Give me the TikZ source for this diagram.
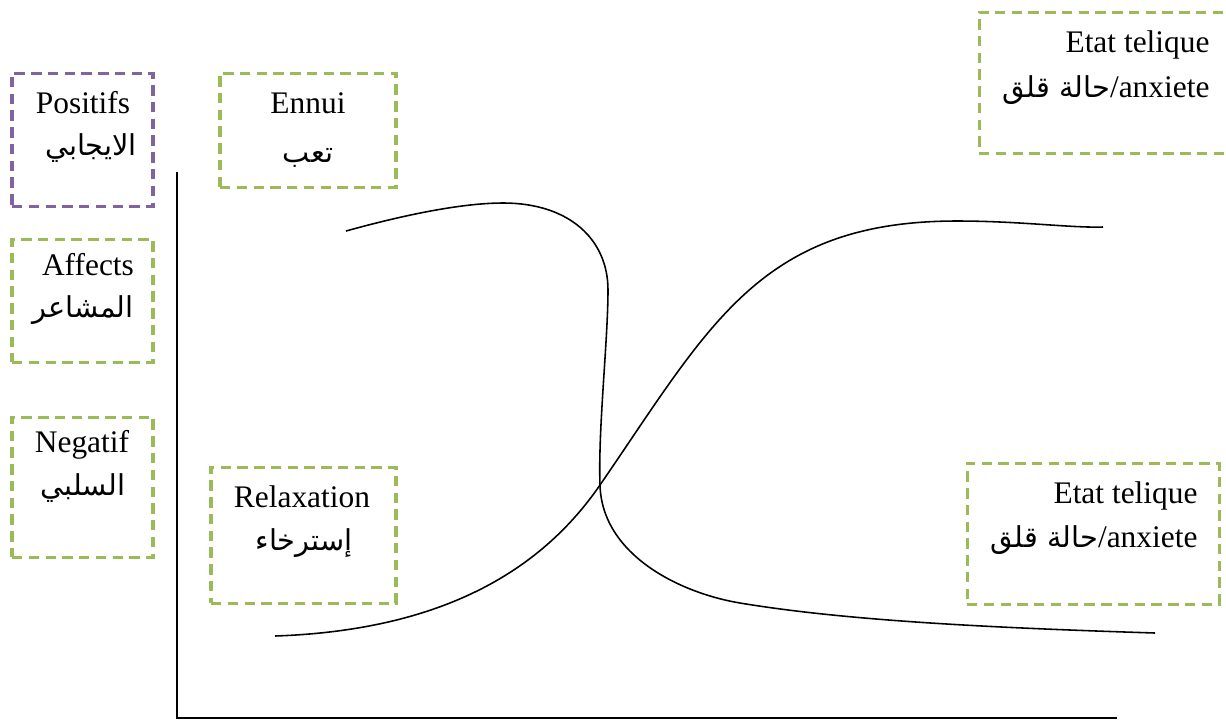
\documentclass[tikz,border=0pt]{standalone}
\usepackage{fontspec}
\setmainfont{Liberation Serif}
\newfontfamily\arabicfont[Script=Arabic]{DejaVu Sans}
\TeXXeTstate=1
\usetikzlibrary{fit}
\definecolor{boxgreen}{RGB}{155,187,89}
\definecolor{boxpurple}{RGB}{128,100,162}
\begin{document}
\begin{tikzpicture}[x=0.382pt,y=-0.382pt,
  gbox/.style={draw=boxgreen,line width=1.15pt,dash pattern=on 4pt off 2.4pt,inner sep=0pt},
  pbox/.style={draw=boxpurple,line width=1.15pt,dash pattern=on 4pt off 2.4pt,inner sep=0pt},
  lat/.style={font=\fontsize{12}{14}\selectfont,inner sep=0pt,anchor=base},
  arb/.style={font=\fontsize{11}{13}\arabicfont,inner sep=0pt,anchor=base},
  latr/.style={lat,anchor=base east},
  curve/.style={line width=0.6pt},
  axis/.style={line width=0.8pt}]
\useasboundingbox (0,0) rectangle (1226,720);
\clip (0,0) rectangle (1226,720);

% boxes
\node[pbox,fit={(12,73) (153,206)}] (posbox) {};
\node[gbox,fit={(12,239) (153,362)}] (affbox) {};
\node[gbox,fit={(12,417) (153,557)}] (negbox) {};
\node[gbox,fit={(220,73) (396,187)}] (ennbox) {};
\node[gbox,fit={(211,467) (396,603)}] (relbox) {};
\node[gbox,fit={(979,12) (1240,153)}] (ettop) {};
\node[gbox,fit={(967,463) (1219,604)}] (etbot) {};

% texts
\node[lat] (pos1) at (83,113) {Positifs};
\node[arb] (pos2) at (91,155) {\beginR الايجابي\endR};
\node[lat] (aff1) at (88,275) {Affects};
\node[arb] (aff2) at (83,317) {\beginR المشاعر\endR};
\node[lat] (neg1) at (82,452) {Negatif};
\node[arb] (neg2) at (83,495) {\beginR السلبي\endR};
\node[lat] (enn1) at (308,113) {Ennui};
\node[arb] (enn2) at (308,162) {\beginR تعب\endR};
\node[lat] (rel1) at (302,507) {Relaxation};
\node[arb] (rel2) at (304,550) {\beginR إسترخاء\endR};
\node[latr] (ett1) at (1210,52) {Etat telique};
\node[latr] (ett2) at (1210,97) {{\arabicfont\fontsize{11}{13}\selectfont\beginR حالة قلق\endR}/anxiete};
\node[latr] (etb1) at (1198,503) {Etat telique};
\node[latr] (etb2) at (1198,547) {{\arabicfont\fontsize{11}{13}\selectfont\beginR حالة قلق\endR}/anxiete};

% axes
\coordinate (ytop) at (177,172);
\coordinate (orig) at (177,718);
\coordinate (xend) at (1117,718);
\draw[axis] (ytop) -- (orig) -- (xend);

% curves
\coordinate (c1s) at (346,231);
\coordinate (c1e) at (1155,633);
\draw[curve] (c1s) .. controls (400,216) and (460,203) .. (503,203)
  .. controls (570,203) and (608,240) .. (608,290)
  .. controls (608,340) and (598,430) .. (600,485)
  .. controls (602,555) and (680,593) .. (740,603)
  .. controls (850,621.3) and (1000,628) .. (c1e);
\coordinate (c2s) at (275,636);
\coordinate (c2e) at (1103,227);
\draw[curve] (c2s) .. controls (450,630) and (545,565) .. (600,485)
  .. controls (710,325) and (760,221) .. (957,221)
  .. controls (1020,221) and (1070,228) .. (c2e);
\end{tikzpicture}
\end{document}
